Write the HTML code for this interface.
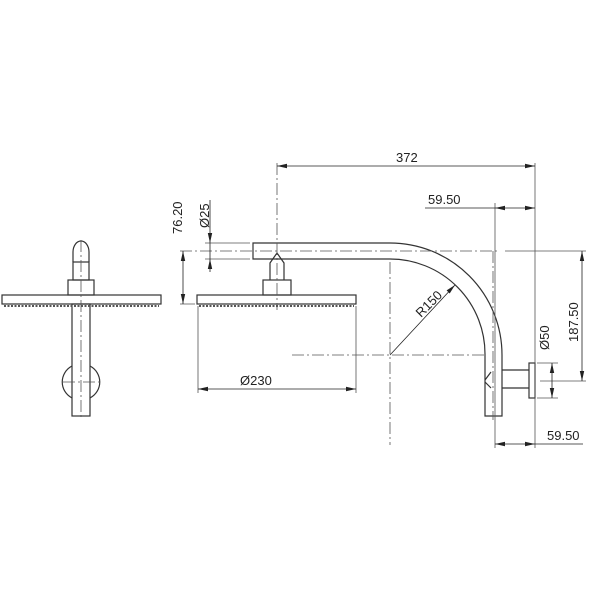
<!DOCTYPE html>
<html><head><style>html,body{margin:0;padding:0;background:#fff}svg{display:block}</style></head>
<body>
<svg width="600" height="600" viewBox="0 0 600 600" xmlns="http://www.w3.org/2000/svg">
<g fill="none" stroke="#333" stroke-width="1.2">
<!-- left view -->
<rect x="2" y="295" width="159" height="9"/>
<rect x="68" y="280" width="26" height="15"/>
<rect x="73" y="262" width="16" height="18"/>
<path d="M73,262 V252 A8,11 0 0 1 89,252 V262"/>
<rect x="72" y="304" width="18" height="112"/>
<path d="M72,366 A18,18 0 0 0 72,398 M90,366 A18,18 0 0 1 90,398"/>
<!-- middle head -->
<rect x="197" y="295" width="159" height="9"/>
<rect x="263" y="280" width="28" height="15"/>
<path d="M270,280 V263 L277,253 L284,263 V280"/>
<!-- arm -->
<path d="M253,243 H390 A112,112 0 0 1 502,355 V416 H485 V355 A95,95 0 0 0 390,259 H253 Z"/>
<path d="M502,370 H529 M502,388 H529 M485,380 L491,372 M491,388 L485,382"/>
<rect x="529" y="363" width="6" height="35"/>
</g>
<g stroke="#555" stroke-width="0.8" fill="none">
<path d="M4,306 H159 M199,306 H354" stroke-dasharray="2,1.5" stroke-width="2"/>
<path d="M81,240 V420 M63,382 H100 M277,163 V310" stroke-dasharray="12,3,2,3"/>
<path d="M180,251 H500 M292,355 H485 M390,262 V445 M493,251 V420" stroke-dasharray="12,3,2,3"/>
<path d="M535,163 V448 M495,203 V448 M198,306 V393 M356,306 V393 M205,243 H250 M205,259 H250 M180,304 H195 M537,363 H558 M537,398 H558 M540,381 H586 M505,251 H586"/>
<path stroke="#222" d="M277,166 H535 M495,208 H535 M495,444 H535 M198,389 H356 M210,200 V272 M183,251 V304 M582,251 V381 M552,363 V398 M425,208 H495 M535,444 H583 M390,355 L455,285"/>
</g>
<g fill="#222" stroke="none">
<!-- 372 -->
<path d="M277,166 l10,-2.2 v4.4z M535,166 l-10,-2.2 v4.4z"/>
<!-- 59.50 top -->
<path d="M495,208 l10,-2.2 v4.4z M535,208 l-10,-2.2 v4.4z"/>
<!-- 59.50 bottom -->
<path d="M495,444 l10,-2.2 v4.4z M535,444 l-10,-2.2 v4.4z"/>
<!-- 230 -->
<path d="M198,389 l10,-2.2 v4.4z M356,389 l-10,-2.2 v4.4z"/>
<!-- 25 -->
<path d="M210,243 l-2.2,-10 h4.4z M210,259 l-2.2,10 h4.4z"/>
<!-- 76.20 -->
<path d="M183,251 l-2.2,10 h4.4z M183,304 l-2.2,-10 h4.4z"/>
<!-- 187.50 -->
<path d="M582,251 l-2.2,10 h4.4z M582,381 l-2.2,-10 h4.4z"/>
<!-- 50 -->
<path d="M552,363 l-2.2,10 h4.4z M552,398 l-2.2,-10 h4.4z"/>
<!-- R150 -->
<path d="M455,285 l-8.4,5.4 l3.1,3.1z"/>
</g>
<g font-family="Liberation Sans, DejaVu Sans, sans-serif" font-size="13" fill="#222">
<text x="396" y="162">372</text>
<text x="428" y="204">59.50</text>
<text x="547" y="440">59.50</text>
<text x="240" y="385">Ø230</text>
<text transform="translate(182,234) rotate(-90)">76.20</text>
<text transform="translate(209,228) rotate(-90)">Ø25</text>
<text transform="translate(578,342) rotate(-90)">187.50</text>
<text transform="translate(549,350) rotate(-90)">Ø50</text>
<text transform="translate(421,318) rotate(-45)">R150</text>
</g>
</svg>
</body></html>
